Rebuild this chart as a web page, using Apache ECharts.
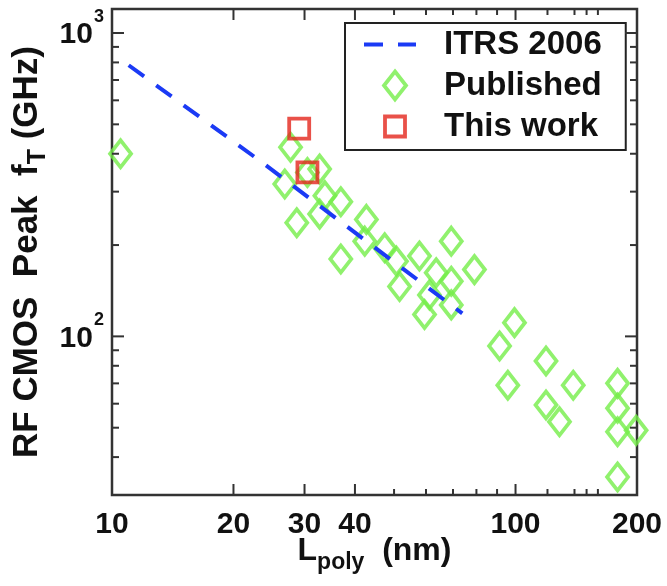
<!DOCTYPE html>
<html><head><meta charset="utf-8">
<script src="https://cdn.jsdelivr.net/npm/echarts@6/dist/echarts.min.js"></script>
<style>html,body{margin:0;padding:0;background:#fff}#c{width:667px;height:586px}</style>
</head><body><div id="c"></div>
<script>
// axis ranges
const xMin = 10, xMax = 200, yMin = 30, yMax = 1200;
// ITRS 2006 roadmap line (L_poly nm, fT GHz)
const itrsL  = [11, 23.2, 73.8];
const itrsFt = [783, 380, 119];
// Published data
const pubL  = [10.5, 27.7, 26.8, 32.7, 30.5, 33.7, 36.9, 32.7, 28.7, 42.7, 42.3, 36.9, 47.4, 50.7, 51.6, 57.8, 69.3, 63.6, 69.3, 79.1, 61.2, 69.3, 59.5, 99.4, 91.3, 95.7, 119, 139, 119, 128.5, 179, 179, 179, 199, 179];
const pubFt = [400, 420, 318, 356, 347, 291, 278, 253, 237, 243, 206, 180, 196, 177, 146, 184, 206, 162, 152, 166, 137, 127, 118, 111, 93, 69, 83, 69, 59.4, 52.3, 70, 58, 48.5, 49, 34.4];
// This work
const thisL  = [29.1, 30.5];
const thisFt = [484, 347];
// ticks
const xMajorTicks = [10, 20, 30, 40, 100, 200];
const xTickLabels = ['10', '20', '30', '40', '100', '200'];
const xMinorTicks = [50, 60, 70, 80, 90, 120, 140, 150, 160];
const yMajorTicks = [100, 1000];
const yTickExponents = ['2', '3'];
const yMinorTicks = [40, 50, 60, 70, 80, 90, 200, 300, 400, 500, 600, 700, 800, 900];

const FONT = '"Liberation Sans", Arial, Helvetica, sans-serif';
const AX = '#333333';
const GREEN = '#74ee48', RED = '#e4261c', BLUE = '#1b3af5';
const CLEAR = 'rgba(0,0,0,0)';

function zip(a, b) { return a.map((v, i) => [v, b[i]]); }

function xTicks(len, labels) {
  return function (params, api) {
    const cs = params.coordSys;
    const x = api.coord([api.value(0), yMin])[0];
    const bot = cs.y + cs.height, top = cs.y;
    const ch = [
      {type: 'line', shape: {x1: x, y1: bot, x2: x, y2: bot - len}, style: {stroke: AX, lineWidth: 2}},
      {type: 'line', shape: {x1: x, y1: top, x2: x, y2: top + len}, style: {stroke: AX, lineWidth: 2}}
    ];
    if (labels) {
      ch.push({type: 'text', x: x, y: bot + 30, style: {
        text: labels[params.dataIndex], fill: '#111', fontSize: 30, fontWeight: 'bold',
        fontFamily: FONT, align: 'center', verticalAlign: 'middle'}});
    }
    return {type: 'group', children: ch};
  };
}
function yTicks(len, exps) {
  return function (params, api) {
    const cs = params.coordSys;
    const y = api.coord([xMin, api.value(1)])[1];
    const l = cs.x, r = cs.x + cs.width;
    const ch = [
      {type: 'line', shape: {x1: l, y1: y, x2: l + len, y2: y}, style: {stroke: AX, lineWidth: 2}},
      {type: 'line', shape: {x1: r, y1: y, x2: r - len, y2: y}, style: {stroke: AX, lineWidth: 2}}
    ];
    if (exps) {
      ch.push({type: 'text', x: l - 8, y: y + 2, style: {
        text: '{b|10}{s|' + exps[params.dataIndex] + '}', align: 'right', verticalAlign: 'middle',
        rich: {
          b: {fontSize: 30, fontWeight: 'bold', fontFamily: FONT, fill: '#111', color: '#111'},
          s: {fontSize: 18, fontWeight: 'bold', fontFamily: FONT, fill: '#111', color: '#111', padding: [0, 0, 36, 1]}
        }}});
    }
    return {type: 'group', children: ch};
  };
}

const xNameRich = {
  a: {fontSize: 32, fontWeight: 'bold', fontFamily: FONT, color: '#111'},
  s: {fontSize: 23, fontWeight: 'bold', fontFamily: FONT, color: '#111', padding: [22, 0, 0, 0]}
};
const yNameRich = {
  a: {fontSize: 35, fontWeight: 'bold', fontFamily: FONT, color: '#111'},
  s: {fontSize: 25, fontWeight: 'bold', fontFamily: FONT, color: '#111', padding: [22, 0, 0, 0]}
};

const chart = echarts.init(document.getElementById('c'), null, {renderer: 'canvas'});
chart.setOption({
  animation: false,
  backgroundColor: '#fff',
  grid: {left: 112, right: 30, top: 9, bottom: 91, show: true, borderColor: AX, borderWidth: 2.5, backgroundColor: '#fff'},
  xAxis: {
    type: 'log', logBase: 10, min: xMin, max: xMax,
    axisLine: {show: false}, axisTick: {show: false}, axisLabel: {show: false}, splitLine: {show: false},
    name: '{a|L}{s|poly}{a|  (nm)}', nameLocation: 'middle', nameGap: 34,
    nameTextStyle: {rich: xNameRich}
  },
  yAxis: {
    type: 'log', logBase: 10, min: yMin, max: yMax,
    axisLine: {show: false}, axisTick: {show: false}, axisLabel: {show: false}, splitLine: {show: false},
    name: '{a|RF CMOS  Peak  f}{s|T}{a| (GHz)}', nameLocation: 'middle', nameGap: 61,
    nameTextStyle: {rich: yNameRich}
  },
  legend: {
    data: [
      {name: 'ITRS 2006', itemStyle: {opacity: 0}, lineStyle: {type: [19, 15], width: 4, color: BLUE}},
      {name: 'Published', icon: 'path://M-10,14M11,0L22,14L11,28L0,14Z',
       itemStyle: {color: CLEAR, borderColor: GREEN, borderWidth: 3.8}},
      {name: 'This work', icon: 'path://M-10,-4M0,0L20,0L20,20L0,20ZM10,24',
       itemStyle: {color: CLEAR, borderColor: RED, borderWidth: 3.8}}
    ],
    orient: 'vertical', left: 345, top: 23,
    padding: [5, 24, 7, 17], itemWidth: 52, itemHeight: 28, itemGap: 8,
    backgroundColor: '#fff', borderColor: '#222', borderWidth: 2, borderRadius: 0,
    textStyle: {fontSize: 33, fontWeight: 'bold', fontFamily: FONT, color: '#111', padding: [0, 0, 0, 23]}
  },
  series: [
    {name: 'Published', type: 'scatter', data: zip(pubL, pubFt), symbol: 'diamond', symbolSize: [21, 27],
     itemStyle: {color: CLEAR, borderColor: GREEN, borderWidth: 3.8}, z: 3},
    {name: 'ITRS 2006', type: 'line', data: zip(itrsL, itrsFt), symbol: 'none', showSymbol: false,
     lineStyle: {color: BLUE, width: 4, type: [19, 15]}, itemStyle: {color: BLUE}, z: 4},
    {name: 'This work', type: 'scatter', data: zip(thisL, thisFt), symbol: 'rect', symbolSize: 20,
     itemStyle: {color: CLEAR, borderColor: RED, borderWidth: 3.8}, z: 5},
    {type: 'custom', renderItem: xTicks(11, xTickLabels), data: xMajorTicks.map(v => [v, yMin]), z: 6, silent: true},
    {type: 'custom', renderItem: xTicks(6, null), data: xMinorTicks.map(v => [v, yMin]), z: 6, silent: true},
    {type: 'custom', renderItem: yTicks(12, yTickExponents), data: yMajorTicks.map(v => [xMin, v]), z: 6, silent: true},
    {type: 'custom', renderItem: yTicks(7, null), data: yMinorTicks.map(v => [xMin, v]), z: 6, silent: true}
  ]
});
</script></body></html>
